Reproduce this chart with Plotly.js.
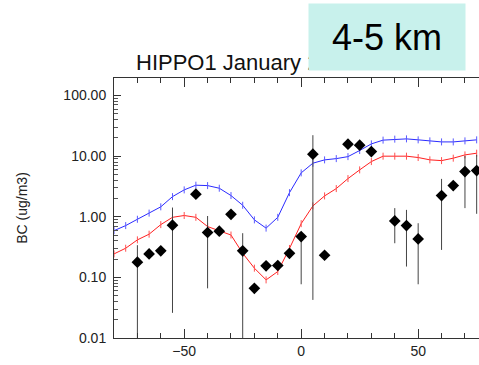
<!DOCTYPE html>
<html>
<head>
<meta charset="utf-8">
<script src="https://cdn.plot.ly/plotly-3.0.1.min.js"></script>
<style>html,body{margin:0;padding:0;background:#fff;}#chart{width:479px;height:365px;}</style>
</head>
<body>
<div id="chart"></div>
<script>
// Observations (latitude, BC ug/m3) with error-bar bounds
const obsLat = [-70,-65,-60,-55,-45,-40,-35,-30,-25,-20,-15,-10,-5,0,5,10,20,25,30,40,45,50,60,65,70,75];
const obsBC  = [0.178,0.244,0.274,0.726,2.36,0.55,0.578,1.10,0.274,0.066,0.155,0.157,0.25,0.471,10.8,0.232,15.8,15.2,11.9,0.855,0.716,0.432,2.24,3.27,5.57,5.79];
const obsHi  = [0.34,0.244,0.274,1.42,2.36,1.03,0.578,1.10,0.536,0.075,0.155,0.157,0.25,0.55,22.2,0.232,15.8,15.2,13.0,1.39,1.30,0.783,4.22,3.27,10.1,10.5];
const obsLo  = [0.001,0.244,0.274,0.026,2.36,0.066,0.578,1.10,0.001,0.058,0.155,0.157,0.25,0.077,0.0425,0.232,15.8,15.2,10.8,0.366,0.151,0.077,0.284,3.27,1.39,1.12];

// Model curves
const modelLat = [-80,-75,-70,-65,-60,-55,-50,-45,-40,-35,-30,-25,-20,-15,-10,-5,0,5,10,15,20,25,30,35,40,45,50,55,60,65,70,75];
const blueBC = [0.59,0.716,0.91,1.15,1.46,2.15,2.78,3.32,3.27,2.96,2.24,1.55,0.89,0.65,0.98,2.5,5.3,7.66,8.69,9.12,9.84,12.4,15.96,18.4,19.1,19.3,18.6,17.9,17.2,17.2,17.9,18.6];
const redBC  = [0.244,0.303,0.416,0.516,0.743,0.98,1.05,0.98,0.69,0.59,0.50,0.25,0.142,0.091,0.125,0.30,0.77,1.51,2.21,2.92,4.27,5.94,8.15,10.0,10.0,10.0,9.5,8.7,8.45,9.27,10.5,11.2];

// Tick labels
const yTickVals = [0.01,0.1,1,10,100];
const yTickText = ["0.01","0.10","1.00","10.00","100.00"];
const titleText = "HIPPO1 January 2009";
const boxText = "4-5 km";
const yTitle = "BC (ug/m3)";

const yMinor = [];
[0.01,0.1,1,10,100].forEach(d => { for (let k = 2; k <= 9; k++) { const v = d*k; if (v < 200) yMinor.push(v); } });

const errPlus = obsBC.map((v,i) => obsHi[i] - v);
const errMinus = obsBC.map((v,i) => v - obsLo[i]);

const traces = [
  {x: modelLat, y: blueBC, type: 'scatter', mode: 'lines+markers',
   line: {color: '#2b2bff', width: 1}, marker: {symbol: 'line-ns-open', size: 5, color: '#5a5aff', line: {width: 1, color: '#6a6aff'}}, hoverinfo: 'skip'},
  {x: modelLat, y: redBC, type: 'scatter', mode: 'lines+markers',
   line: {color: '#ff2020', width: 1}, marker: {symbol: 'line-ns-open', size: 5, color: '#ff5050', line: {width: 1, color: '#ff5a5a'}}, hoverinfo: 'skip'},
  {x: obsLat, y: obsBC, type: 'scatter', mode: 'markers',
   marker: {symbol: 'diamond', size: 9, color: '#000'},
   error_y: {type: 'data', symmetric: false, array: errPlus, arrayminus: errMinus, color: '#444', thickness: 1, width: 0}}
];

const layout = {
  width: 479, height: 365,
  margin: {l: 114, r: 0, t: 78, b: 27},
  paper_bgcolor: '#fff', plot_bgcolor: '#fff',
  showlegend: false,
  font: {family: 'Liberation Sans, Arial, sans-serif', color: '#222', size: 14},
  title: {text: titleText, font: {size: 22, color: '#111'}, x: 136/479, xanchor: 'left', xref: 'container', y: 1 - 62/365, yanchor: 'middle', yref: 'container'},
  xaxis: {range: [-80, 76], showgrid: false, zeroline: false, showline: true, linecolor: '#333', linewidth: 1,
          mirror: 'allticks', ticks: 'inside', ticklen: 9, tickcolor: '#333',
          tickmode: 'array', tickvals: [-50, 0, 50], ticktext: ['\u221250', '0', '50'],
          minor: {ticks: 'inside', ticklen: 5, tickcolor: '#333', tickmode: 'array', tickvals: [-70,-60,-40,-30,-20,-10,10,20,30,40,60,70]},
          tickfont: {size: 14}},
  yaxis: {type: 'log', range: [-2, 2.29], showgrid: false, zeroline: false, showline: true, linecolor: '#333', linewidth: 1,
          ticks: 'inside', ticklen: 7, tickcolor: '#333', tickmode: 'array', tickvals: yTickVals, ticktext: yTickText,
          minor: {ticks: 'inside', ticklen: 4, tickcolor: '#555', tickmode: 'array', tickvals: yMinor},
          tickfont: {size: 14}, ticklabelstandoff: 4,
          title: {text: yTitle, font: {size: 14}, standoff: 32}},
  annotations: [
    {text: boxText, xref: 'paper', yref: 'paper', x: (387-114)/365, y: (338-37)/260, xanchor: 'center', yanchor: 'middle',
     showarrow: false, bgcolor: '#c8f1ec', width: 154, height: 64, font: {size: 36, color: '#000'}}
  ]
};

Plotly.newPlot('chart', traces, layout, {staticPlot: true, displayModeBar: false});
</script>
</body>
</html>
